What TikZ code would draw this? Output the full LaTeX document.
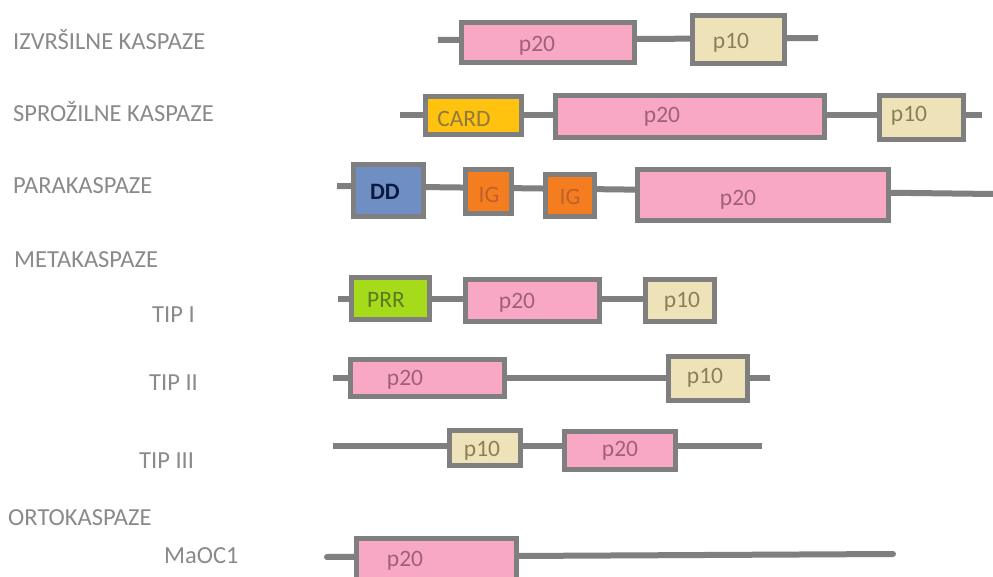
\documentclass[tikz,border=0pt]{standalone}
\usepackage{fontspec}
\setmainfont{Carlito}
\usetikzlibrary{backgrounds}

\definecolor{edgegray}{HTML}{7F7F7F}
\definecolor{labelgray}{HTML}{8A8A8A}
\definecolor{pinkfill}{HTML}{F8A8C4}
\definecolor{beigefill}{HTML}{EEE3B8}
\definecolor{cardfill}{HTML}{FFC20E}
\definecolor{ddfill}{HTML}{6F8FC4}
\definecolor{igfill}{HTML}{F47D20}
\definecolor{prrfill}{HTML}{A6DB1C}
\definecolor{pinktext}{HTML}{A0607A}
\definecolor{beigetext}{HTML}{8A7F55}
\definecolor{cardtext}{HTML}{8F7A40}
\definecolor{igtext}{HTML}{C0602A}
\definecolor{prrtext}{HTML}{5C7A20}
\definecolor{ddtext}{HTML}{0A1A3A}

\tikzset{
  dom/.style={draw=edgegray, line width=5pt, rectangle, inner sep=0pt},
  pinkdom/.style={dom, fill=pinkfill},
  beigedom/.style={dom, fill=beigefill},
  carddom/.style={dom, fill=cardfill},
  dddom/.style={dom, fill=ddfill},
  igdom/.style={dom, fill=igfill},
  prrdom/.style={dom, fill=prrfill},
  domtxt/.style={inner sep=0pt, yshift=-3pt, font=\fontsize{23.5}{24}\selectfont},
  grouplabel/.style={anchor=west, inner sep=0pt, text=labelgray, font=\fontsize{24.5}{25}\selectfont},
  backbone/.style={draw=edgegray, line width=6pt}
}

% #1 name, #2 x1, #3 y1, #4 x2, #5 y2, #6 style
\newcommand\dombox[6]{%
  \node[#6, minimum width={#4-#2-5}, minimum height={#5-#3-5}]
    (#1) at ({(#2+#4)/2},{(#3+#5)/2}) {};}

\begin{document}
\begin{tikzpicture}[x=1pt,y=-1pt]
\useasboundingbox (0,0) rectangle (993,577);

% group labels
\node[grouplabel] (lizv) at (13,40) {IZVRŠILNE KASPAZE};
\node[grouplabel] (lspr) at (13,112) {SPROŽILNE KASPAZE};
\node[grouplabel] (lpar) at (13,186) {PARAKASPAZE};
\node[grouplabel] (lmet) at (14,260) {METAKASPAZE};
\node[grouplabel] (ltip1) at (152,315) {TIP I};
\node[grouplabel] (ltip2) at (149,383) {TIP II};
\node[grouplabel] (ltip3) at (139,461) {TIP III};
\node[grouplabel] (lort) at (8,518) {ORTOKASPAZE};
\node[grouplabel] (lmaoc) at (164,556) {MaOC1};

% executioner caspases
\coordinate (s1) at (438,40); \coordinate (e1) at (818,38);
\dombox{r1a}{459}{20}{637}{65}{pinkdom}
\dombox{r1b}{690}{13}{787}{66}{beigedom}
\node[domtxt, text=pinktext] (r1at) at (537,43) {p20};
\node[domtxt, text=beigetext] (r1bt) at (731,40) {p10};

% initiator caspases
\coordinate (s2) at (400,115); \coordinate (e2) at (982,115);
\dombox{r2a}{423}{94}{524}{137}{carddom}
\dombox{r2b}{553}{93}{827}{140}{pinkdom}
\dombox{r2c}{877}{93}{966}{142}{beigedom}
\node[domtxt, text=cardtext] (r2at) at (464,116) {CARD};
\node[domtxt, text=pinktext] (r2bt) at (662,114) {p20};
\node[domtxt, text=beigetext] (r2ct) at (909,113) {p10};

% paracaspases
\coordinate (s3) at (337,186); \coordinate (e3) at (993,194);
\dombox{r3a}{351}{162}{426}{219}{dddom}
\dombox{r3b}{463}{167}{514}{216}{igdom}
\dombox{r3c}{543}{172}{597}{219}{igdom}
\dombox{r3d}{635}{167}{891}{223}{pinkdom}
\node[domtxt, text=ddtext, font=\fontsize{23.5}{24}\selectfont\bfseries] (r3at) at (385,189) {DD};
\node[domtxt, text=igtext] (r3bt) at (489,192) {IG};
\node[domtxt, text=igtext] (r3ct) at (570,194) {IG};
\node[domtxt, text=pinktext] (r3dt) at (738,197) {p20};

% metacaspases, type I
\coordinate (s4) at (338,299); \coordinate (e4) at (680,299);
\dombox{r4a}{349}{275}{432}{322}{prrdom}
\dombox{r4b}{463}{277}{602}{324}{pinkdom}
\dombox{r4c}{643}{277}{717}{324}{beigedom}
\node[domtxt, text=prrtext] (r4at) at (386,297) {PRR};
\node[domtxt, text=pinktext] (r4bt) at (517,300) {p20};
\node[domtxt, text=beigetext] (r4ct) at (682,299) {p10};

% metacaspases, type II
\coordinate (s5) at (333,378); \coordinate (e5) at (770,378);
\dombox{r5a}{348}{357}{507}{399}{pinkdom}
\dombox{r5b}{666}{354}{750}{403}{beigedom}
\node[domtxt, text=pinktext] (r5at) at (405,377) {p20};
\node[domtxt, text=beigetext] (r5bt) at (705,375) {p10};

% metacaspases, type III
\coordinate (s6) at (333,446); \coordinate (e6) at (762,446);
\dombox{r6a}{447}{428}{523}{468}{beigedom}
\dombox{r6b}{562}{429}{678}{472}{pinkdom}
\node[domtxt, text=beigetext] (r6at) at (482,448) {p10};
\node[domtxt, text=pinktext] (r6bt) at (620,448) {p20};

% orthocaspases
\coordinate (s7) at (327,557); \coordinate (e7) at (893,554);
\dombox{r7a}{354}{536}{519}{582}{pinkdom}
\node[domtxt, text=pinktext] (r7at) at (405,558) {p20};

\begin{scope}[on background layer]
  \fill[white] (0,0) rectangle (993,577);
  \draw[backbone] (s1) -- (e1);
  \draw[backbone] (s2) -- (e2);
  \draw[backbone] (s3) -- (e3);
  \draw[backbone] (s4) -- (e4);
  \draw[backbone] (s5) -- (e5);
  \draw[backbone] (s6) -- (e6);
  \draw[backbone, line cap=round] (s7) -- (e7);
\end{scope}
\end{tikzpicture}
\end{document}
